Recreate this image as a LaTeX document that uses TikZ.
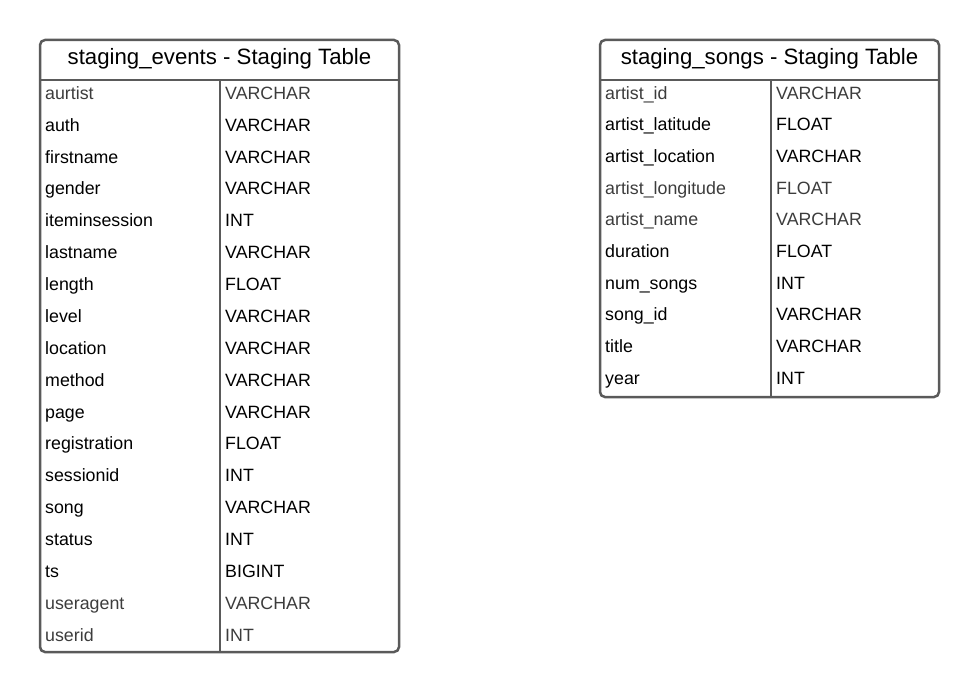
\documentclass[tikz,border=0pt]{standalone}
\usepackage{fontspec}
\setmainfont{Liberation Sans}
\begin{document}
\begin{tikzpicture}[x=1pt,y=-1pt,
  frame/.style={draw=framegrey,line width=2.5pt,rounded corners=5pt},
  rule/.style={draw=framegrey,line width=2.5pt},
  title/.style={font=\fontsize{22.2}{26}\selectfont,text=black,inner sep=0pt,anchor=base},
  cell/.style={font=\fontsize{17.8}{21}\selectfont,text=black,inner sep=0pt,anchor=base west},
  dim/.style={cell,text=textgrey}]
\definecolor{framegrey}{HTML}{5A5A5A}
\definecolor{textgrey}{HTML}{3C3C3C}
\useasboundingbox (0,0) rectangle (980,693);

% staging_events table
\draw[frame] (40,40) rectangle (399,652);
\draw[rule] (40,80) -- (399,80);
\draw[rule] (220,80) -- (220,652);
\node[title] (evtitle) at (219.5,65) {staging\_events - Staging Table};

\foreach \name/\type/\sty [count=\i from 0] in {
  aurtist/VARCHAR/dim, auth/VARCHAR/cell, firstname/VARCHAR/cell,
  gender/VARCHAR/cell, iteminsession/INT/cell, lastname/VARCHAR/cell,
  length/FLOAT/cell, level/VARCHAR/cell, location/VARCHAR/cell,
  method/VARCHAR/cell, page/VARCHAR/cell, registration/FLOAT/cell,
  sessionid/INT/cell, song/VARCHAR/cell, status/INT/cell,
  ts/BIGINT/cell, useragent/VARCHAR/dim, userid/INT/dim} {
  \pgfmathsetmacro{\yb}{99.3+31.88*\i}
  \node[\sty] (ev-n-\i) at (45,\yb) {\name};
  \node[\sty] (ev-t-\i) at (225,\yb) {\type};
}

% staging_songs table
\draw[frame] (600,40) rectangle (939,397);
\draw[rule] (600,80) -- (939,80);
\draw[rule] (771,80) -- (771,397);
\node[title] (sgtitle) at (769.5,65) {staging\_songs - Staging Table};

\foreach \name/\type/\sty [count=\i from 0] in {
  artist\_id/VARCHAR/dim, artist\_latitude/FLOAT/cell,
  artist\_location/VARCHAR/cell, artist\_longitude/FLOAT/dim,
  artist\_name/VARCHAR/dim, duration/FLOAT/cell, num\_songs/INT/cell,
  song\_id/VARCHAR/cell, title/VARCHAR/cell, year/INT/cell} {
  \pgfmathsetmacro{\yb}{99.3+31.67*\i}
  \node[\sty] (sg-n-\i) at (605,\yb) {\name};
  \node[\sty] (sg-t-\i) at (776,\yb) {\type};
}
\end{tikzpicture}
\end{document}
